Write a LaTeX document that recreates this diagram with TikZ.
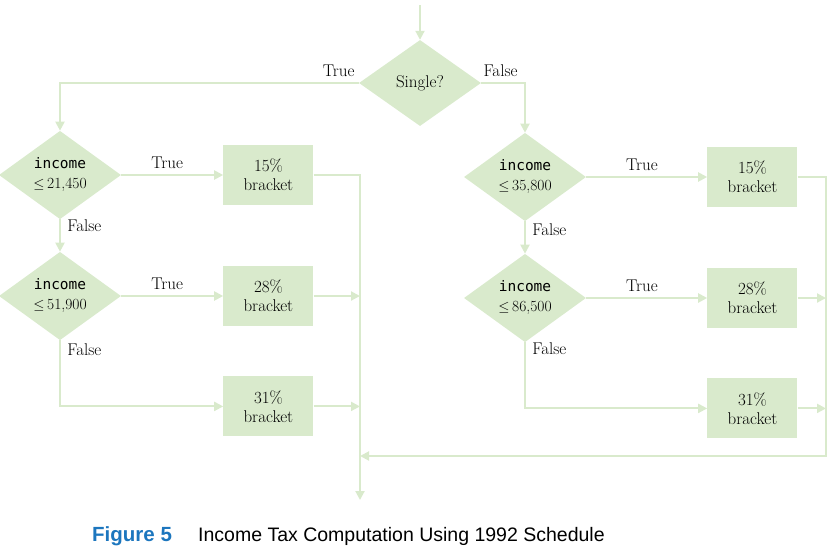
\documentclass[tikz,border=0pt]{standalone}
\usepackage{fontspec}
\setmonofont{DejaVu Sans Mono}
\newfontfamily\capfont{Liberation Sans}
\usepackage{tikz}
\usetikzlibrary{shapes.geometric}
\usetikzlibrary{positioning}
\usetikzlibrary{arrows.meta}
\definecolor{flowgreen}{RGB}{217,234,204}
\definecolor{capblue}{RGB}{28,118,190}
\newcommand{\incomeat}[1]{{\fontsize{14.5}{20}\selectfont\ttfamily income}\\$\leq$\,#1}

\begin{document}
\begin{tikzpicture} [x=1pt, y=-1pt,
                font=\fontsize{17}{19}\selectfont,
                decision/.style = {diamond, fill=flowgreen, inner sep=0pt, minimum width=122pt, minimum height=84pt, align=center, font=\fontsize{15.5}{20}\selectfont},
                bracketbox/.style = {rectangle, fill=flowgreen, inner sep=0pt, minimum width=90pt, minimum height=60pt, align=center},
                flow/.style = {draw=flowgreen, line width=2pt},
                arr/.style = {flow, -{Triangle[length=9pt,width=9pt]}},
                caption/.style = {anchor=base west, inner sep=0pt, font=\capfont\fontsize{19.5}{22}\selectfont}
            ]
            \useasboundingbox (0,0) rectangle (834,547);
            \coordinate (start) at (420,5);
            \node (single) at (420,83) [decision, minimum width=122pt, minimum height=86pt, font=\fontsize{17}{20}\selectfont] {Single?};
            \node (d1) at (60,175) [decision, text depth=4pt] {\incomeat{21,450}};
            \node (d2) at (60,296) [decision, text depth=4pt] {\incomeat{51,900}};
            \node (d3) at (525,177) [decision, text depth=4pt] {\incomeat{35,800}};
            \node (d4) at (525,298) [decision, text depth=4pt] {\incomeat{86,500}};
            \node[bracketbox, right=102pt of d1] (b1) {15\%\\bracket};
            \node[bracketbox, right=102pt of d2] (b2) {28\%\\bracket};
            \node[bracketbox, below=50pt of b2] (b3) {31\%\\bracket};
            \node[bracketbox, right=121pt of d3] (b4) {15\%\\bracket};
            \node[bracketbox, right=121pt of d4] (b5) {28\%\\bracket};
            \node[bracketbox, below=50pt of b5] (b6) {31\%\\bracket};
            \coordinate (lend) at (360,500);
            \coordinate (rturn) at (826,456);
            % decisions
            \draw [arr] (start) -- (single);
            \draw [arr] (single.west) -| node[pos=0, above left=2pt and 0pt] {True} (d1.north);
            \draw [arr] (single.east) -| node[pos=0, above right=2pt and -2pt] {False} (d3.north);
            \draw [arr] (d1) to node[pos=0.45, above=2pt] {True} (b1);
            \draw [arr] (d1) to node[pos=0.2, right=3pt] {False} (d2);
            \draw [arr] (d2) to node[pos=0.45, above=2pt] {True} (b2);
            \draw [arr] (d2.south) |- node[pos=0.07, right=3pt] {False} (b3.west);
            \draw [arr] (d3) to node[pos=0.46, above=2pt] {True} (b4);
            \draw [arr] (d3) to node[pos=0.25, right=3pt] {False} (d4);
            \draw [arr] (d4) to node[pos=0.46, above=2pt] {True} (b5);
            \draw [arr] (d4.south) |- node[pos=0.05, right=3pt] {False} (b6.west);
            % collecting lines
            \draw [arr] (b1.east) -| (lend);
            \draw [arr] (b2.east) -- (b2.east -| lend);
            \draw [arr] (b3.east) -- (b3.east -| lend);
            \draw [arr] (b4.east) -| (rturn) -- (rturn -| lend);
            \draw [arr] (b5.east) -- (b5.east -| rturn);
            \draw [arr] (b6.east) -- (b6.east -| rturn);
            \node[caption, font=\capfont\fontsize{20.5}{22}\selectfont\bfseries, text=capblue] (figno) at (92,541) {Figure 5};
            \node[caption] (figtext) at (198,541) {Income Tax Computation Using 1992 Schedule};
        \end{tikzpicture}
\end{document}
